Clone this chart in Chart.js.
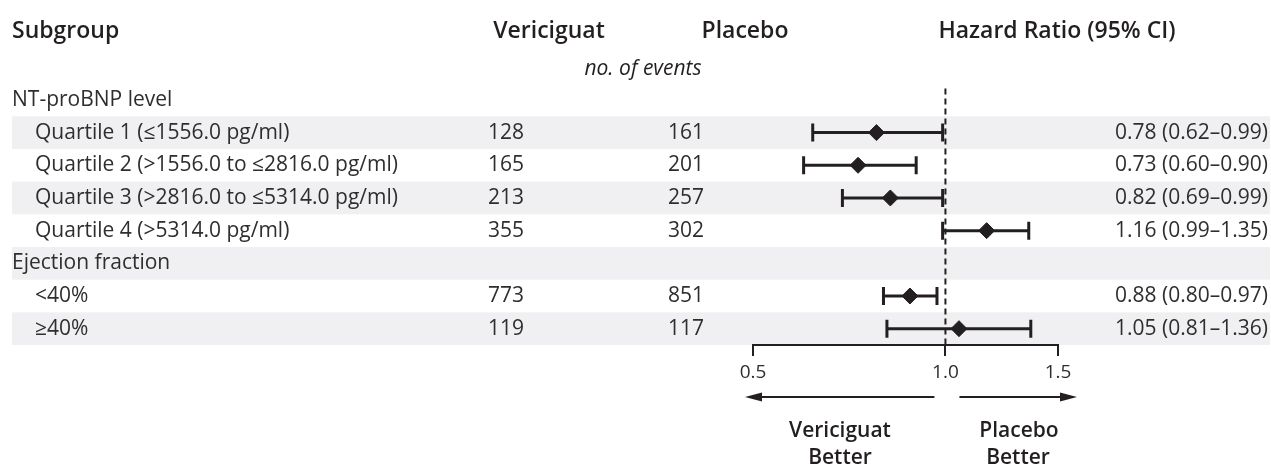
<!DOCTYPE html>
<html>
<head>
<meta charset="utf-8">
<script src="https://cdn.jsdelivr.net/npm/chart.js@4.4.1/dist/chart.umd.min.js"></script>
<style>
  html, body { margin: 0; padding: 0; background: #fff; }
</style>
</head>
<body>
<canvas id="forest" width="1271" height="466"></canvas>
<script>
// ── Data ─────────────────────────────────────────────────────
const subgroupLabels = [
  'NT-proBNP level',
  'Quartile 1 (≤1556.0 pg/ml)',
  'Quartile 2 (>1556.0 to ≤2816.0 pg/ml)',
  'Quartile 3 (>2816.0 to ≤5314.0 pg/ml)',
  'Quartile 4 (>5314.0 pg/ml)',
  'Ejection fraction',
  '<40%',
  '≥40%'
];
const indentLevels = [0, 1, 1, 1, 1, 0, 1, 1];
const vericiguatEvents = [null, 128, 165, 213, 355, null, 773, 119];
const placeboEvents = [null, 161, 201, 257, 302, null, 851, 117];
const hazardRatios = [null, 0.78, 0.73, 0.82, 1.16, null, 0.88, 1.05];
const ciLower = [null, 0.62, 0.60, 0.69, 0.99, null, 0.80, 0.81];
const ciUpper = [null, 0.99, 0.90, 0.99, 1.35, null, 0.97, 1.36];
const hrLabels = [
  '', '0.78 (0.62–0.99)', '0.73 (0.60–0.90)', '0.82 (0.69–0.99)',
  '1.16 (0.99–1.35)', '', '0.88 (0.80–0.97)', '1.05 (0.81–1.36)'
];
const shadedRows = [1, 3, 5, 7];
const axisTicks = [0.5, 1.0, 1.5];
const axisTickLabels = ['0.5', '1.0', '1.5'];

// ── Styling ─────────────────────────────────────────────────
const INK = '#231f20';
const BODY = '#2e2e2e';
const BAND = '#f0f0f2';
const FONT = "'Open Sans', sans-serif";

// rows that actually carry an estimate
const estimateRows = hazardRatios.map((v, i) => i).filter(i => hazardRatios[i] !== null);

const diamondData = estimateRows.map(i => ({ x: hazardRatios[i], y: i }));

const whiskerSets = estimateRows.map(i => ({
  type: 'scatter',
  data: [{ x: ciLower[i], y: i }, { x: ciUpper[i], y: i }],
  showLine: true,
  borderColor: INK,
  borderWidth: 3,
  pointStyle: 'line',
  pointRotation: 90,
  pointRadius: 9,
  pointBorderWidth: 3,
  pointBorderColor: INK,
  order: 1
}));

// ── Table / annotations plugin ──────────────────────────────
const tablePlugin = {
  id: 'forestTable',
  beforeDraw(chart) {
    const { ctx, scales: { y } } = chart;
    ctx.save();
    ctx.fillStyle = BAND;
    shadedRows.forEach(r => {
      const top = y.getPixelForValue(r - 0.5);
      const bottom = y.getPixelForValue(r + 0.5);
      ctx.fillRect(12, top, 1258, bottom - top);
    });
    ctx.restore();
  },
  afterDraw(chart) {
    const { ctx, scales: { x, y } } = chart;
    ctx.save();
    ctx.fillStyle = INK;
    ctx.textBaseline = 'middle';

    // column headers
    ctx.font = `600 23px ${FONT}`;
    ctx.textAlign = 'left';
    ctx.fillText('Subgroup', 12, 31);
    ctx.textAlign = 'center';
    ctx.fillText('Vericiguat', 549, 31);
    ctx.fillText('Placebo', 745, 31);
    ctx.fillText('Hazard Ratio (95% CI)', 1057, 31);

    ctx.font = `italic 21px ${FONT}`;
    ctx.fillText('no. of events', 643, 69);

    // body rows
    ctx.font = `21px ${FONT}`;
    ctx.fillStyle = BODY;
    subgroupLabels.forEach((label, i) => {
      const py = y.getPixelForValue(i);
      ctx.textAlign = 'left';
      ctx.fillText(label, indentLevels[i] ? 35 : 12, py);
      if (vericiguatEvents[i] !== null) ctx.fillText(String(vericiguatEvents[i]), 488, py);
      if (placeboEvents[i] !== null) ctx.fillText(String(placeboEvents[i]), 668, py);
      ctx.textAlign = 'right';
      ctx.fillText(hrLabels[i], 1268, py);
    });

    // direction arrows under the axis
    const one = x.getPixelForValue(1);
    const lo = x.getPixelForValue(axisTicks[0]);
    const hi = x.getPixelForValue(axisTicks[2]);
    const ay = 397;
    ctx.fillStyle = INK;
    ctx.strokeStyle = INK;
    ctx.lineWidth = 2;
    const arrow = (from, to) => {
      const dir = Math.sign(to - from);
      ctx.beginPath();
      ctx.moveTo(from, ay);
      ctx.lineTo(to - dir * 12, ay);
      ctx.stroke();
      ctx.beginPath();
      ctx.moveTo(to, ay);
      ctx.lineTo(to - dir * 17, ay - 4.5);
      ctx.lineTo(to - dir * 17, ay + 4.5);
      ctx.closePath();
      ctx.fill();
    };
    arrow(one - 11, lo - 8);
    arrow(one + 14, hi + 19);

    ctx.font = `600 21px ${FONT}`;
    ctx.textAlign = 'center';
    ctx.fillText('Vericiguat', 840, 431);
    ctx.fillText('Better', 840, 458);
    ctx.fillText('Placebo', 1019, 431);
    ctx.fillText('Better', 1018, 458);
    ctx.restore();
  }
};

// ── Chart ────────────────────────────────────────────────────
new Chart(document.getElementById('forest').getContext('2d'), {
  type: 'scatter',
  data: {
    datasets: [
      {
        data: diamondData,
        pointStyle: 'rectRot',
        pointRadius: 8,
        backgroundColor: INK,
        borderColor: INK,
        borderWidth: 1,
        order: 0
      },
      ...whiskerSets,
      {
        // line of no effect
        data: [{ x: 1, y: -0.35 }, { x: 1, y: 7.5 }],
        showLine: true,
        borderColor: INK,
        borderWidth: 2,
        borderDash: [6, 4],
        pointRadius: 0,
        order: 2
      }
    ]
  },
  options: {
    responsive: false,
    animation: false,
    events: [],
    layout: { padding: { left: 753, right: 213, top: 83.6, bottom: 81 } },
    plugins: { legend: { display: false }, tooltip: { enabled: false } },
    scales: {
      x: {
        type: 'logarithmic',
        min: 0.5,
        max: 1.5,
        afterBuildTicks: axis => { axis.ticks = axisTicks.map(v => ({ value: v })); },
        afterFit: axis => { axis.height = 40; },
        grid: { drawOnChartArea: false, drawTicks: true, tickLength: 11, color: INK, lineWidth: 2 },
        border: { display: true, color: INK, width: 2 },
        ticks: {
          color: BODY,
          padding: 5,
          font: { family: FONT, size: 19 },
          callback: (v) => axisTickLabels[axisTicks.indexOf(v)] ?? ''
        }
      },
      y: {
        display: false,
        min: -0.5,
        max: 7.5,
        reverse: true
      }
    }
  },
  plugins: [tablePlugin]
});
</script>
</body>
</html>
